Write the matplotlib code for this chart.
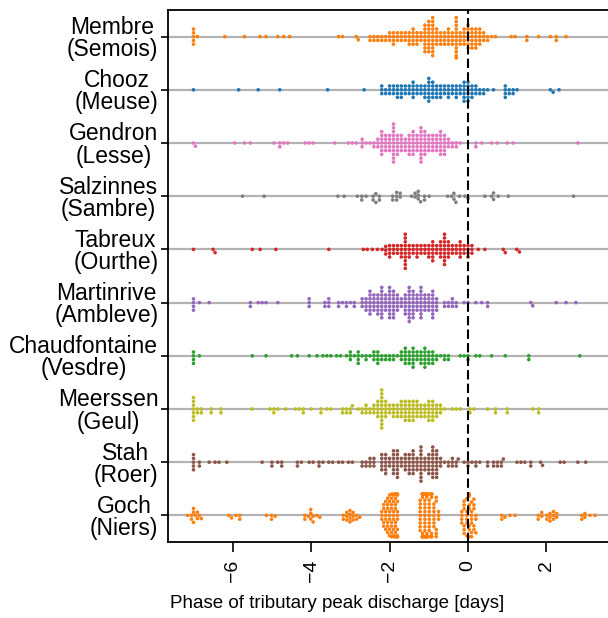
import numpy as np
import pandas as pd
import matplotlib
matplotlib.use('Agg')
import matplotlib.pyplot as plt
import seaborn as sns

# stations (top to bottom) and their rivers
stations = ['Membre', 'Chooz', 'Gendron', 'Salzinnes', 'Tabreux',
            'Martinrive', 'Chaudfontaine', 'Meerssen', 'Stah', 'Goch']
rivers = ['Semois', 'Meuse', 'Lesse', 'Sambre', 'Ourthe',
          'Ambleve', 'Vesdre', 'Geul', 'Roer', 'Niers']
colors = ['#ff7f0e', '#1f77b4', '#e377c2', '#7f7f7f', '#d62728',
          '#9467bd', '#2ca02c', '#bcbd22', '#8c564b', '#ff7f0e']

# phase values [days] and how many events share each value
membre_x = [-7.0, -6.9, -6.2, -5.7, -5.3, -5.15, -4.85, -4.7, -4.55, -3.3, -3.2, -2.85, -2.8,
            -2.5, -2.4, -2.3, -2.2, -2.1, -2.0, -1.9, -1.8, -1.7, -1.6, -1.5, -1.4, -1.3,
            -1.2, -1.1, -1.0, -0.9, -0.8, -0.7, -0.6, -0.5, -0.4, -0.3, -0.2, -0.1, 0.0,
            0.1, 0.2, 0.3, 0.4, 0.5, 0.6, 0.7, 1.1, 1.2, 1.5, 1.8, 2.1, 2.25, 2.5]
membre_n = [5, 1, 1, 1, 1, 1, 1, 1, 1, 1, 1, 1, 1,
            2, 2, 2, 2, 2, 3, 4, 3, 3, 3, 4, 5, 4,
            3, 8, 9, 11, 5, 4, 4, 5, 4, 12, 4, 5, 7,
            6, 6, 5, 3, 2, 1, 1, 1, 1, 2, 1, 1, 2, 1]

chooz_x = [-7.0, -5.85, -5.35, -4.8, -3.58, -2.65, -2.2, -2.1, -2.0, -1.9, -1.8, -1.7, -1.6,
           -1.5, -1.4, -1.3, -1.2, -1.1, -1.0, -0.9, -0.8, -0.7, -0.6, -0.5, -0.4, -0.3,
           -0.2, -0.1, 0.0, 0.1, 0.2, 0.3, 0.4, 0.5, 0.65, 0.95, 1.05, 1.15, 1.25,
           2.1, 2.17, 2.32]
chooz_n = [1, 1, 1, 1, 1, 1, 3, 2, 3, 3, 4, 4, 3,
           3, 5, 3, 3, 4, 7, 5, 4, 4, 3, 4, 3, 4,
           3, 6, 6, 4, 3, 2, 2, 1, 1, 4, 2, 2, 1,
           1, 1, 1]

gendron_x = [-7.0, -6.95, -5.95, -5.7, -5.55, -4.95, -4.8, -4.7, -4.6, -4.15, -4.05, -3.95,
             -3.4, -3.05, -2.95, -2.85, -2.7, -2.6, -2.5, -2.4, -2.3, -2.2, -2.1, -2.0, -1.9,
             -1.8, -1.7, -1.6, -1.5, -1.4, -1.3, -1.2, -1.1, -1.0, -0.9, -0.8, -0.7, -0.6,
             -0.5, -0.4, -0.3, -0.2, 0.2, 0.35, 0.6, 0.75, 1.0, 1.15, 2.8]
gendron_n = [1, 1, 1, 1, 1, 1, 2, 1, 1, 1, 1, 1,
             1, 1, 1, 1, 3, 1, 1, 2, 3, 7, 5, 5, 11,
             6, 5, 4, 6, 7, 5, 10, 7, 5, 5, 5, 7, 6,
             3, 2, 2, 1, 2, 1, 1, 1, 1, 1, 1]

salzinnes_x = [-5.75, -5.2, -3.32, -3.16, -2.82, -2.71, -2.6, -2.42, -2.35, -2.26, -1.92,
               -1.82, -1.73, -1.44, -1.35, -1.27, -1.21, -1.11, -0.99, -0.52, -0.42, -0.36,
               -0.31, -0.22, -0.08, 0.0, 0.43, 0.6, 0.65, 0.77, 1.03, 2.69]
salzinnes_n = [1, 1, 1, 1, 1, 2, 1, 2, 2, 2, 2,
               3, 2, 1, 2, 3, 1, 2, 1, 1, 1, 2,
               1, 1, 1, 1, 1, 1, 2, 1, 1, 1]

tabreux_x = [-7.0, -6.5, -6.45, -5.5, -5.3, -4.9, -3.55, -2.67, -2.57, -2.44, -2.31, -2.19,
             -2.1, -2.0, -1.9, -1.8, -1.7, -1.6, -1.5, -1.4, -1.3, -1.2, -1.1, -1.0, -0.9,
             -0.8, -0.7, -0.6, -0.5, -0.4, -0.3, -0.2, -0.1, 0.0, 0.1, 0.26, 0.43, 0.9,
             0.95, 1.24, 1.31]
tabreux_n = [1, 1, 1, 1, 1, 1, 1, 1, 1, 1, 1, 1,
             3, 4, 3, 3, 4, 10, 4, 3, 4, 3, 3, 4, 6,
             3, 5, 9, 5, 3, 3, 5, 3, 4, 3, 1, 1, 1,
             1, 1, 1]

martinrive_x = [-7.0, -6.85, -6.6, -5.55, -5.35, -5.25, -5.15, -4.85, -4.05, -3.65, -3.55,
                -3.3, -3.2, -3.1, -3.0, -2.9, -2.7, -2.6, -2.5, -2.4, -2.3, -2.2, -2.1, -2.0,
                -1.9, -1.8, -1.7, -1.6, -1.5, -1.4, -1.3, -1.2, -1.1, -1.0, -0.9, -0.8, -0.6,
                -0.5, -0.4, -0.3, -0.1, 0.0, 0.2, 0.35, 0.5, 1.6, 1.65, 2.25, 2.5, 2.75]
martinrive_n = [4, 1, 1, 2, 1, 1, 1, 1, 3, 2, 3,
                2, 1, 2, 1, 2, 3, 4, 7, 5, 6, 9, 5, 9,
                8, 5, 3, 6, 10, 8, 5, 9, 5, 5, 8, 4, 2,
                2, 3, 2, 1, 1, 1, 1, 2, 1, 1, 1, 1, 1]

chaudfontaine_x = [-7.0, -6.85, -5.5, -5.15, -4.5, -4.35, -4.05, -3.85, -3.7, -3.6, -3.5, -3.35,
                   -3.25, -3.1, -3.0, -2.9, -2.8, -2.7, -2.6, -2.5, -2.4, -2.3, -2.2, -2.1,
                   -2.0, -1.9, -1.8, -1.7, -1.6, -1.5, -1.4, -1.3, -1.2, -1.1, -1.0, -0.9,
                   -0.8, -0.7, -0.6, -0.5, -0.2, -0.1, 0.0, 0.2, 0.3, 0.6, 0.95, 1.55, 2.85]
chaudfontaine_n = [4, 1, 1, 1, 1, 1, 1, 1, 1, 1, 1, 1,
                   1, 1, 3, 1, 4, 1, 2, 1, 3, 4, 2, 2,
                   2, 2, 1, 3, 5, 4, 6, 3, 4, 6, 4, 4,
                   2, 1, 2, 2, 1, 1, 2, 1, 1, 1, 1, 2, 1]

meerssen_x = [-7.0, -6.9, -6.8, -6.55, -6.3, -5.5, -5.05, -4.95, -4.85, -4.65, -4.4, -4.3,
              -4.2, -4.0, -3.75, -3.6, -3.5, -3.2, -3.1, -3.0, -2.95, -2.8, -2.7, -2.6,
              -2.5, -2.4, -2.3, -2.2, -2.1, -2.0, -1.9, -1.8, -1.7, -1.6, -1.5, -1.4, -1.3,
              -1.2, -1.1, -1.0, -0.9, -0.8, -0.7, -0.6, -0.4, -0.3, -0.2, 0.05, 0.15, 0.5,
              0.7, 1.0, 1.65, 1.8]
meerssen_n = [7, 2, 2, 2, 2, 1, 1, 2, 1, 1, 1, 1,
              2, 1, 2, 1, 1, 2, 2, 2, 1, 1, 2, 3,
              2, 3, 5, 11, 5, 3, 4, 4, 5, 6, 6, 6, 5,
              4, 4, 6, 6, 4, 3, 1, 1, 1, 1, 2, 1, 1,
              2, 2, 1, 2]

stah_x = [-7.0, -6.85, -6.6, -6.45, -6.35, -6.15, -5.25, -5.0, -4.85, -4.75, -4.35, -4.25,
          -4.05, -3.95, -3.8, -3.7, -3.55, -3.45, -3.3, -3.2, -3.05, -2.95, -2.7, -2.6,
          -2.5, -2.4, -2.2, -2.1, -2.0, -1.9, -1.8, -1.7, -1.6, -1.5, -1.4, -1.3, -1.2,
          -1.1, -1.0, -0.9, -0.8, -0.7, -0.6, -0.5, -0.4, -0.3, -0.25, -0.1, 0.0, 0.1,
          0.2, 0.3, 0.5, 0.65, 0.75, 0.85, 0.9, 1.25, 1.35, 1.45, 1.6, 1.85, 1.9, 2.35,
          2.45, 2.8, 3.0]
stah_n = [5, 2, 1, 1, 1, 1, 1, 2, 1, 2, 2, 1,
          1, 1, 2, 1, 1, 1, 1, 1, 1, 1, 2, 2,
          3, 3, 5, 6, 3, 7, 8, 3, 5, 6, 7, 4, 10,
          4, 6, 9, 8, 3, 1, 2, 3, 2, 1, 1, 2, 1,
          2, 1, 2, 2, 2, 2, 1, 1, 1, 1, 2, 1, 1, 1,
          1, 1, 1]

goch_x = [-7.15, -7.05, -7.0, -6.95, -6.9, -6.85, -6.8, -6.1, -6.03, -5.92, -5.82,
          -5.14, -5.01, -4.92, -4.16, -4.07, -4.01, -3.95, -3.86, -3.78,
          -3.18, -3.09, -3.01, -2.93, -2.84, -2.76,
          -2.2, -2.15, -2.1, -2.05, -2.0, -1.95, -1.9, -1.85, -1.8,
          -1.22, -1.16, -1.1, -1.05, -0.99, -0.93, -0.87, -0.81, -0.75,
          -0.16, -0.1, -0.03, 0.03, 0.09, 0.15, 0.2,
          0.86, 0.94, 1.07, 1.2, 1.79, 1.88, 2.01, 2.09, 2.18, 2.26,
          2.9, 2.98, 3.11, 3.24]
goch_n = [1, 2, 3, 1, 2, 1, 1, 1, 1, 1, 2,
          1, 2, 1, 2, 1, 3, 2, 1, 1,
          2, 3, 4, 3, 2, 1,
          3, 4, 5, 6, 7, 8, 9, 11, 12,
          9, 15, 15, 12, 11, 9, 7, 5, 3,
          4, 6, 6, 8, 7, 5, 3,
          2, 1, 1, 1, 2, 2, 2, 3, 3, 2,
          2, 2, 1, 1]

xs = [membre_x, chooz_x, gendron_x, salzinnes_x, tabreux_x,
      martinrive_x, chaudfontaine_x, meerssen_x, stah_x, goch_x]
ns = [membre_n, chooz_n, gendron_n, salzinnes_n, tabreux_n,
      martinrive_n, chaudfontaine_n, meerssen_n, stah_n, goch_n]

rows = []
for st, x, n in zip(stations, xs, ns):
    for v in np.repeat(x, n):
        rows.append((st, v))
df = pd.DataFrame(rows, columns=['station', 'phase'])

plt.rcParams['font.family'] = ['Liberation Sans', 'DejaVu Sans']

fig = plt.figure(figsize=(6.08, 6.18), dpi=100)
ax = fig.add_axes([168 / 608, 76 / 618, 442 / 608, 532 / 618])

for i in range(len(stations)):
    ax.axhline(i, color='#b3b3b3', lw=1.6, zorder=0)
ax.axvline(0, color='black', ls='--', lw=1.5, dashes=(4.5, 2), zorder=3)

sns.swarmplot(data=df, x='phase', y='station', hue='station', order=stations,
              hue_order=stations, palette=colors, size=2.6, orient='h',
              legend=False, ax=ax, zorder=2, warn_thresh=1.0)

ax.set_xlim(-7.65, 3.62)
ax.set_ylim(9.5, -0.5)
ax.set_xticks([-6, -4, -2, 0, 2])
ax.set_xticklabels(['\u22126', '\u22124', '\u22122', '0', '2'], rotation=90)
ax.set_yticks(range(len(stations)))
ax.set_yticklabels([f'{s}\n({r})' for s, r in zip(stations, rivers)],
                   multialignment='center', linespacing=0.95)
ax.tick_params(axis='both', width=1.2, length=7)
ax.tick_params(axis='y', labelsize=16.5, pad=2, length=5)
ax.tick_params(axis='x', labelsize=14, pad=6)
ax.set_xlabel('Phase of tributary peak discharge [days]', fontsize=13.5, labelpad=8)
ax.xaxis.set_label_coords(0.382, -0.1)
ax.xaxis.label.set_va('top')
ax.set_ylabel('')
for s in ['left', 'bottom', 'top']:
    ax.spines[s].set_linewidth(1.3)
ax.spines['right'].set_visible(False)

fig.savefig('out.png', dpi=100)
